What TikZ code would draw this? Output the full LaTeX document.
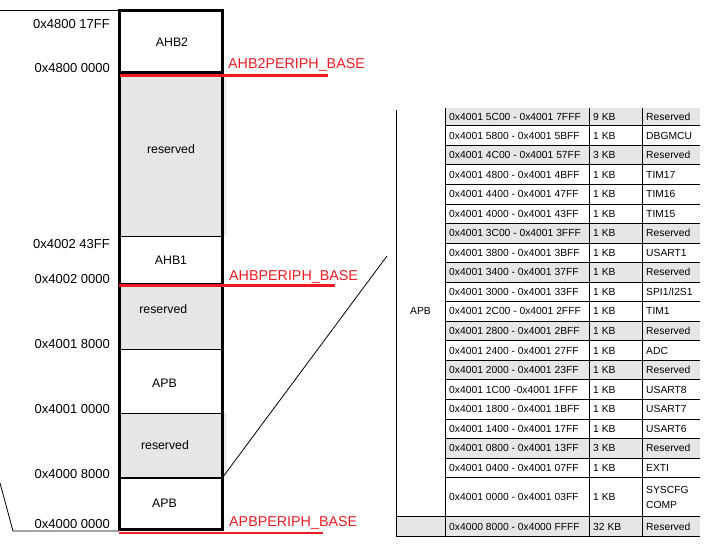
\documentclass[tikz,border=0pt]{standalone}
\usepackage{fontspec}
\setmainfont{Liberation Sans}
\definecolor{rd}{RGB}{237,28,36}
\definecolor{shd}{RGB}{230,230,230}
\definecolor{shd2}{RGB}{238,238,238}
\begin{document}
\begin{tikzpicture}[x=1pt,y=-1pt,
  addr/.style={anchor=east,font=\fontsize{13}{15}\selectfont,inner sep=0pt},
  blk/.style={font=\fontsize{12.3}{14}\selectfont,inner sep=0pt},
  redlbl/.style={anchor=base west,text=rd,font=\fontsize{14.3}{16}\selectfont,inner sep=0pt},
  redline/.style={draw=rd,line width=2.7pt},
  boxline/.style={line width=2.5pt},
  thinline/.style={line width=1pt},
  cell/.style={anchor=west,font=\fontsize{10.3}{15.3}\selectfont,inner sep=0pt,align=left},
  tline/.style={line width=0.8pt},
  leader/.style={line width=0.8pt}]
\useasboundingbox (0,0) rectangle (708,549);

% ---------- memory map column ----------
\fill[shd2] (222.5,75) rectangle (227,236);
\fill[shd2] (222.5,413) rectangle (227,477.5);
\fill[shd] (119.5,72.7) rectangle (222.5,236);
\fill[shd] (119.5,284) rectangle (222.5,349);
\fill[shd] (119.5,413) rectangle (222.5,477.5);

\draw[thinline] (119.5,236) -- (222.5,236);
\draw[line width=1.7pt] (119.5,284) -- (222.5,284);
\draw[thinline] (119.5,349) -- (222.5,349);
\draw[thinline] (119.5,413) -- (222.5,413);
\draw[line width=2pt] (119.5,477.5) -- (222.5,477.5);
\draw[boxline] (119.5,72.7) -- (222.5,72.7);
\draw[boxline] (119.5,10.5) rectangle (222.5,529.5);

% leaders
\coordinate (t1) at (0,10);
\coordinate (t2) at (119.5,10);
\draw[leader] (t1) -- (t2);
\coordinate (l1) at (0,483);
\coordinate (l2) at (13,531);
\coordinate (l3) at (119,531);
\draw[leader] (l1) -- (l2) -- (l3);
\coordinate (s1) at (222.5,477.5);
\coordinate (s2) at (387,256);
\draw[leader] (s1) -- (s2);

% block labels
\node[blk] (bAHB2) at (172,42.5) {AHB2};
\node[blk] (bres1) at (171,149) {reserved};
\node[blk] (bAHB1) at (171,260) {AHB1};
\node[blk] (bres2) at (163.3,309) {reserved};
\node[blk] (bAPB1) at (164.5,383) {APB};
\node[blk] (bres3) at (165,445.3) {reserved};
\node[blk] (bAPB2) at (164.5,503.3) {APB};

% addresses
\node[addr] (a1) at (110,23.8) {0x4800 17FF};
\node[addr] (a2) at (110,68) {0x4800 0000};
\node[addr] (a3) at (110,244) {0x4002 43FF};
\node[addr] (a4) at (110,278.7) {0x4002 0000};
\node[addr] (a5) at (110,344) {0x4001 8000};
\node[addr] (a6) at (110,409) {0x4001 0000};
\node[addr] (a7) at (110,474) {0x4000 8000};
\node[addr] (a8) at (110,524) {0x4000 0000};

% red base markers
\draw[redline] (120,75.3) -- (328,75.3);
\draw[redline] (119,285.3) -- (335,285.3);
\draw[redline] (119,533) -- (323,533);
\node[redlbl] (r1) at (228,68.3) {AHB2PERIPH\_BASE};
\node[redlbl] (r2) at (229,280) {AHBPERIPH\_BASE};
\node[redlbl] (r3) at (229,526.7) {APBPERIPH\_BASE};

% ---------- APB table ----------
\foreach \t/\b in {108/125.7,145.25/164.8,223.45/243.0,262.55/282.1,321.2/340.75,360.3/379.85,438.5/458.05}
  \fill[shd] (445,\t) rectangle (700,\b);
\fill[shd] (396,516.7) rectangle (700,536.2);

\foreach \k in {0,...,18}
  \draw[tline] (445,{125.7+19.55*\k}) -- (700,{125.7+19.55*\k});
\draw[tline] (396,516.7) -- (700,516.7);
\draw[tline] (396,536.2) -- (700,536.2);
\draw[tline] (396,110) -- (396,536.2);
\draw[tline] (445,108) -- (445,536.2);
\draw[tline] (589,108) -- (589,536.2);
\draw[tline] (642,108) -- (642,536.2);

\node[cell,anchor=center] (tapb) at (420.5,311) {APB};

\foreach \i/\y/\a/\s/\n in {
  0/116.85/{0x4001 5C00 - 0x4001 7FFF}/{9 KB}/{Reserved},
  1/135.5/{0x4001 5800 - 0x4001 5BFF}/{1 KB}/{DBGMCU},
  2/155.0/{0x4001 4C00 - 0x4001 57FF}/{3 KB}/{Reserved},
  3/174.6/{0x4001 4800 - 0x4001 4BFF}/{1 KB}/{TIM17},
  4/194.1/{0x4001 4400 - 0x4001 47FF}/{1 KB}/{TIM16},
  5/213.7/{0x4001 4000 - 0x4001 43FF}/{1 KB}/{TIM15},
  6/233.2/{0x4001 3C00 - 0x4001 3FFF}/{1 KB}/{Reserved},
  7/252.8/{0x4001 3800 - 0x4001 3BFF}/{1 KB}/{USART1},
  8/272.3/{0x4001 3400 - 0x4001 37FF}/{1 KB}/{Reserved},
  9/291.9/{0x4001 3000 - 0x4001 33FF}/{1 KB}/{SPI1/I2S1},
  10/311.4/{0x4001 2C00 - 0x4001 2FFF}/{1 KB}/{TIM1},
  11/331.0/{0x4001 2800 - 0x4001 2BFF}/{1 KB}/{Reserved},
  12/350.5/{0x4001 2400 - 0x4001 27FF}/{1 KB}/{ADC},
  13/370.1/{0x4001 2000 - 0x4001 23FF}/{1 KB}/{Reserved},
  14/389.6/{0x4001 1C00 -0x4001 1FFF}/{1 KB}/{USART8},
  15/409.2/{0x4001 1800 - 0x4001 1BFF}/{1 KB}/{USART7},
  16/428.7/{0x4001 1400 - 0x4001 17FF}/{1 KB}/{USART6},
  17/448.3/{0x4001 0800 - 0x4001 13FF}/{3 KB}/{Reserved},
  18/467.8/{0x4001 0400 - 0x4001 07FF}/{1 KB}/{EXTI},
  19/497.15/{0x4001 0000 - 0x4001 03FF}/{1 KB}/{SYSCFG\\COMP},
  20/526.45/{0x4000 8000 - 0x4000 FFFF}/{32 KB}/{Reserved}}
{
  \node[cell] (ta\i) at (449,\y) {\a};
  \node[cell] (ts\i) at (593,\y) {\s};
  \node[cell] (tn\i) at (646,\y) {\n};
}
\end{tikzpicture}
\end{document}
